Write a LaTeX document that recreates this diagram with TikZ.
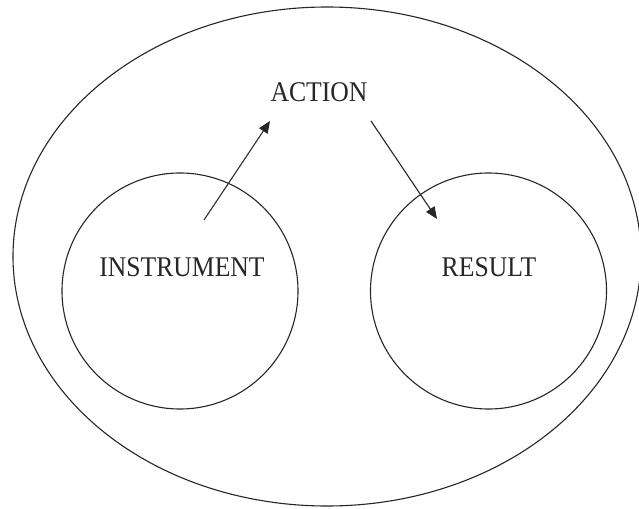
\documentclass[tikz,border=0pt]{standalone}
\usepackage{fontspec}
\newfontfamily\labelfont{Liberation Serif}[FakeStretch=0.9]
\usetikzlibrary{shapes.geometric,arrows.meta}
\begin{document}
\begin{tikzpicture}[x=1pt,y=-1pt,
  ring/.style={draw=black!85,line width=1.1pt,circle,inner sep=0pt,minimum size=236pt},
  rim/.style={draw=black!85,line width=1.1pt,ellipse,inner sep=0pt,minimum width=628pt,minimum height=499pt},
  word/.style={font=\labelfont\fontsize{28.5}{30}\selectfont,text=black!85,inner sep=0pt},
  flow/.style={draw=black!85,line width=1.1pt,-{Triangle[length=12pt,width=10pt]}}]
\useasboundingbox (0,0) rectangle (639,508);
% outer boundary and the two inner regions
\node[rim] (world) at (327,256.5) {};
\node[ring] (instrument) at (180,291) {};
\node[ring] (result) at (488.5,291) {};
% labels
\node[word] (action) at (319,92) {ACTION};
\node[word] (instrlabel) at (182,267.5) {INSTRUMENT};
\node[word] (resultlabel) at (489,267.5) {RESULT};
% arrow end points
\coordinate (instr-out) at (204,220);
\coordinate (action-in) at (270,121);
\coordinate (action-out) at (371,121);
\coordinate (result-in) at (437,219);
\draw[flow] (instr-out) -- (action-in);
\draw[flow] (action-out) -- (result-in);
\end{tikzpicture}
\end{document}
